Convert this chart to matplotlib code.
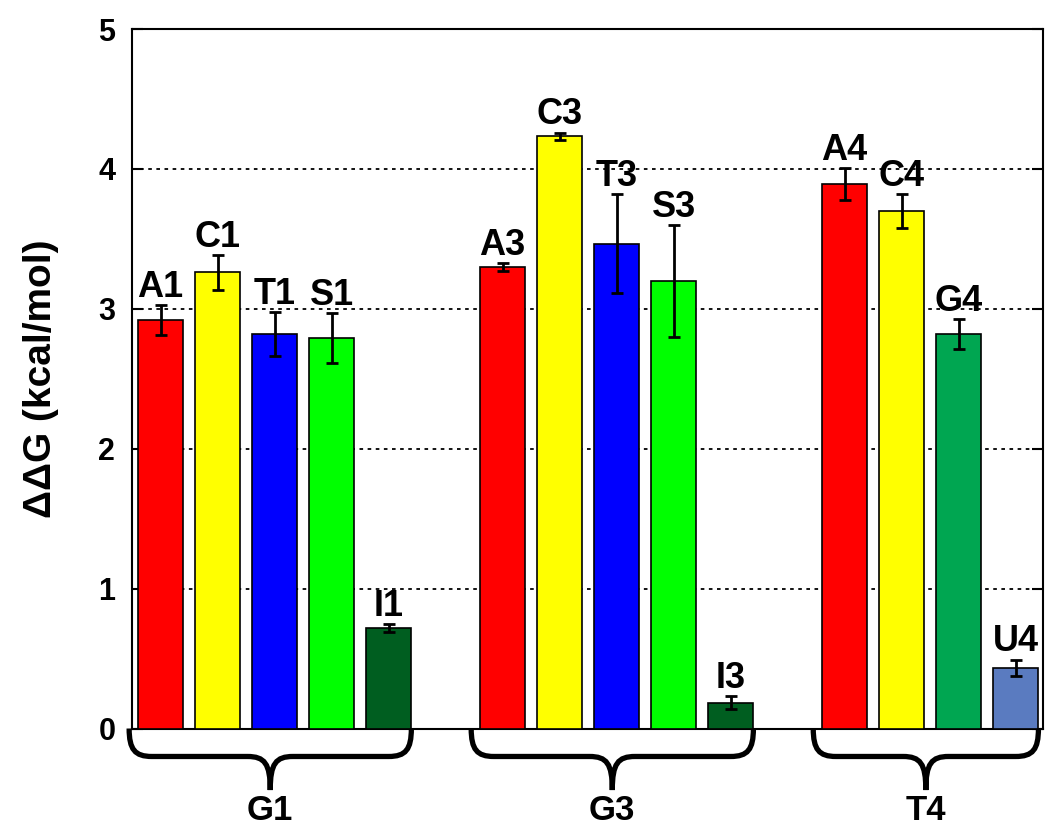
import numpy as np
import matplotlib.pyplot as plt
from matplotlib.path import Path
from matplotlib.patches import PathPatch

plt.rcParams['font.family'] = ['Liberation Sans', 'DejaVu Sans']
plt.rcParams['font.weight'] = 'bold'

groups = ['G1', 'G3', 'T4']
group_sizes = [5, 5, 4]
labels = ['A1', 'C1', 'T1', 'S1', 'I1',
          'A3', 'C3', 'T3', 'S3', 'I3',
          'A4', 'C4', 'G4', 'U4']
values = [2.92, 3.26, 2.82, 2.79, 0.716,
          3.30, 4.235, 3.465, 3.20, 0.184,
          3.89, 3.70, 2.82, 0.435]
errors = [0.105, 0.125, 0.155, 0.18, 0.028,
          0.028, 0.025, 0.355, 0.40, 0.045,
          0.115, 0.12, 0.107, 0.058]
colors = ['#ff0000', '#ffff00', '#0000ff', '#00ff00', '#005e20',
          '#ff0000', '#ffff00', '#0000ff', '#00ff00', '#005e20',
          '#ff0000', '#ffff00', '#00a651', '#5a7bc0']

# bar positions, one empty slot between groups
x = []
pos = 0
for n in group_sizes:
    x += list(range(pos, pos + n))
    pos += n + 1
x = np.array(x)

fig = plt.figure(figsize=(10.5, 8.27), dpi=100)
ax = fig.add_axes([132/1050, 1 - 728.5/827, 911/1050, 699.5/827])

ax.bar(x, values, width=0.79, color=colors, edgecolor='black', linewidth=1.2, zorder=3)
ax.errorbar(x, values, yerr=errors, fmt='none', ecolor='black', elinewidth=2,
            capsize=4, capthick=2, zorder=4)

for xi, v, e, lab in zip(x, values, errors, labels):
    ax.annotate(lab, (xi, v + e), xytext=(0, 6), textcoords='offset points',
                ha='center', va='baseline', fontsize=26, fontweight='bold')

ax.set_xlim(-0.5, 15.48)
ax.set_ylim(0, 5)
ax.set_yticks(range(6))
ax.set_xticks([])
ax.tick_params(axis='y', direction='in', length=8, width=1.5, labelsize=22,
               pad=12, right=True)
for t in ax.get_yticklabels():
    t.set_fontweight('bold')
for s in ax.spines.values():
    s.set_linewidth(1.5)
ax.yaxis.grid(True, color='black', linestyle=(0, (2, 2.5)), linewidth=1.3)
ax.set_axisbelow(True)

ax.set_ylabel('ΔΔG (kcal/mol)', fontsize=28, fontweight='bold')
ax.yaxis.set_label_coords(-0.08, 0.5)

# curly braces under the groups
start = 0
for g, n in zip(groups, group_sizes):
    L = x[start] - 0.55
    R = x[start + n - 1] + 0.4
    M = (L + R) / 2
    h, p = -0.2, -0.44
    verts = [(L, 0), (L, -0.15), (L + 0.1, h), (L + 0.4, h),
             (M - 0.4, h),
             (M - 0.1, h), (M, -0.25), (M, p),
             (M, -0.25), (M + 0.1, h), (M + 0.4, h),
             (R - 0.4, h),
             (R - 0.1, h), (R, -0.15), (R, 0)]
    codes = [Path.MOVETO, Path.CURVE4, Path.CURVE4, Path.CURVE4,
             Path.LINETO,
             Path.CURVE4, Path.CURVE4, Path.CURVE4,
             Path.CURVE4, Path.CURVE4, Path.CURVE4,
             Path.LINETO,
             Path.CURVE4, Path.CURVE4, Path.CURVE4]
    ax.add_patch(PathPatch(Path(verts, codes), facecolor='none', edgecolor='black',
                           linewidth=3.8, clip_on=False))
    ax.text(M, -0.655, g, ha='center', va='baseline', fontsize=25, fontweight='bold')
    start += n

fig.savefig('out.png', dpi=100)
